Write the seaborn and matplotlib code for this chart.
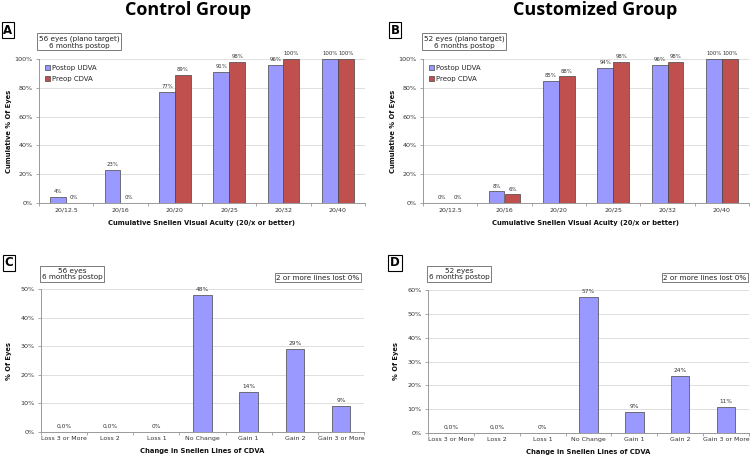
import pandas as pd
import seaborn as sns
import matplotlib.pyplot as plt
from matplotlib.ticker import MultipleLocator, FixedLocator, PercentFormatter

# data
acuity = ['20/12.5', '20/16', '20/20', '20/25', '20/32', '20/40']
ctrl_udva = [4, 23, 77, 91, 96, 100]
ctrl_cdva = [0, 0, 89, 98, 100, 100]
cust_udva = [0, 8, 85, 94, 96, 100]
cust_cdva = [0, 6, 88, 98, 98, 100]

change = ['Loss 3 or More', 'Loss 2', 'Loss 1', 'No Change', 'Gain 1', 'Gain 2', 'Gain 3 or More']
ctrl_change = [0, 0, 0, 48, 14, 29, 9]
cust_change = [0, 0, 0, 57, 9, 24, 11]
ctrl_change_lbl = ['0,0%', '0,0%', '0%', '48%', '14%', '29%', '9%']
cust_change_lbl = ['0,0%', '0,0%', '0%', '57%', '9%', '24%', '11%']

BLUE = '#9999FF'
RED = '#C0504D'
W, H = 753, 458

sns.set_theme(style='white')
plt.rcParams['font.family'] = ['DejaVu Sans']

fig = plt.figure(figsize=(W / 100, H / 100), dpi=100)


def box(x0, y0, x1, y1):
    return [x0 / W, 1 - y1 / H, (x1 - x0) / W, (y1 - y0) / H]


def style_ax(ax, n, ymax, step):
    ax.set_xlim(-0.5, n - 0.5)
    ax.set_ylim(0, ymax)
    ax.yaxis.set_major_locator(MultipleLocator(step))
    ax.yaxis.set_major_formatter(PercentFormatter(decimals=0))
    ax.yaxis.grid(True, color='#d9d9d9', lw=0.6)
    ax.set_axisbelow(True)
    for s in ['top', 'right']:
        ax.spines[s].set_visible(False)
    for s in ['left', 'bottom']:
        ax.spines[s].set_color('#999999')
        ax.spines[s].set_linewidth(0.7)
    ax.tick_params(axis='x', which='major', length=0, labelsize=4.5, pad=3, colors='#333333')
    ax.tick_params(axis='y', which='major', length=2.5, width=0.6, labelsize=4.6, pad=2,
                   color='#999999', labelcolor='#333333', left=True)
    ax.xaxis.set_minor_locator(FixedLocator([i + 0.5 for i in range(-1, n)]))
    ax.tick_params(axis='x', which='minor', length=2.5, width=0.6, color='#999999', bottom=True)


def tag(x0, y0, x1, y1, letter):
    fig.text((x0 + x1) / 2 / W, 1 - (y0 + y1) / 2 / H, letter, ha='center', va='center',
             fontsize=8.5, fontweight='bold', color='black',
             bbox=dict(boxstyle='square,pad=0.15', fc='white', ec='black', lw=0.8))


def note(xc, yc, s):
    fig.text(xc / W, 1 - yc / H, s, ha='center', va='center', fontsize=5.2,
             linespacing=1.15, color='#222222',
             bbox=dict(boxstyle='square,pad=0.25', fc='white', ec='#666666', lw=0.6))


# cumulative acuity panels
for (udva, cdva, rect, title, tx, letter, lx, note_x, note_s) in [
    (ctrl_udva, ctrl_cdva, box(39, 59, 365, 203), 'Control Group', 188, 'A', 8,
     79, '56 eyes (plano target)\n6 months postop'),
    (cust_udva, cust_cdva, box(423, 59, 749, 203), 'Customized Group', 595, 'B', 395,
     464, '52 eyes (plano target)\n6 months postop'),
]:
    ax = fig.add_axes(rect)
    df = pd.DataFrame({
        'va': acuity * 2,
        'pct': udva + cdva,
        'grp': ['Postop UDVA'] * len(acuity) + ['Preop CDVA'] * len(acuity),
    })
    sns.barplot(data=df, x='va', y='pct', hue='grp', palette=[BLUE, RED], saturation=1,
                width=0.58, edgecolor='#444444', linewidth=0.5, ax=ax)
    for cont, vals in zip(ax.containers, [udva, cdva]):
        ax.bar_label(cont, labels=[f'{v}%' for v in vals], fontsize=3.9, padding=2, color='#333333')
    style_ax(ax, len(acuity), 100, 20)
    ax.set_xlabel('Cumulative Snellen Visual Acuity (20/x or better)', fontsize=4.9,
                  fontweight='bold', labelpad=6, color='#111111')
    ax.set_ylabel('Cumulative % Of Eyes', fontsize=4.9, fontweight='bold', labelpad=2,
                  color='#111111')
    ax.legend(loc='upper left', bbox_to_anchor=(0.0, 1.0), frameon=False, fontsize=5.0,
              handlelength=0.7, handleheight=0.7, handletextpad=0.3, labelspacing=0.7,
              borderaxespad=0.5)
    fig.text(tx / W, 1 - 10 / H, title, ha='center', va='center', fontsize=13,
             fontweight='bold', color='black', family=['Open Sans', 'DejaVu Sans'])
    tag(lx - 5, 23, lx + 5, 37, letter)
    note(note_x, 42, note_s)

# change in lines panels
for (vals, lbls, rect, ymax, letter, lx, note_x, note_s, lost_x) in [
    (ctrl_change, ctrl_change_lbl, box(41, 289, 364, 432), 50, 'C', 9, 72,
     '56 eyes\n6 months postop', 318),
    (cust_change, cust_change_lbl, box(428, 290, 749, 433), 60, 'D', 395, 459,
     '52 eyes\n6 months postop', 705),
]:
    ax = fig.add_axes(rect)
    df = pd.DataFrame({'chg': change, 'pct': vals})
    sns.barplot(data=df, x='chg', y='pct', color=BLUE, saturation=1, width=0.4,
                edgecolor='#444444', linewidth=0.5, ax=ax)
    ax.bar_label(ax.containers[0], labels=lbls, fontsize=4.2, padding=2, color='#333333')
    style_ax(ax, len(change), ymax, 10)
    ax.set_xlabel('Change in Snellen Lines of CDVA', fontsize=4.9, fontweight='bold',
                  labelpad=5, color='#111111')
    ax.set_ylabel('% Of Eyes', fontsize=4.9, fontweight='bold', labelpad=6, color='#111111')
    tag(lx - 5, 256, lx + 5, 270, letter)
    note(note_x, 274, note_s)
    note(lost_x, 277.5, '2 or more lines lost 0%')

fig.savefig('out.png', dpi=100)
